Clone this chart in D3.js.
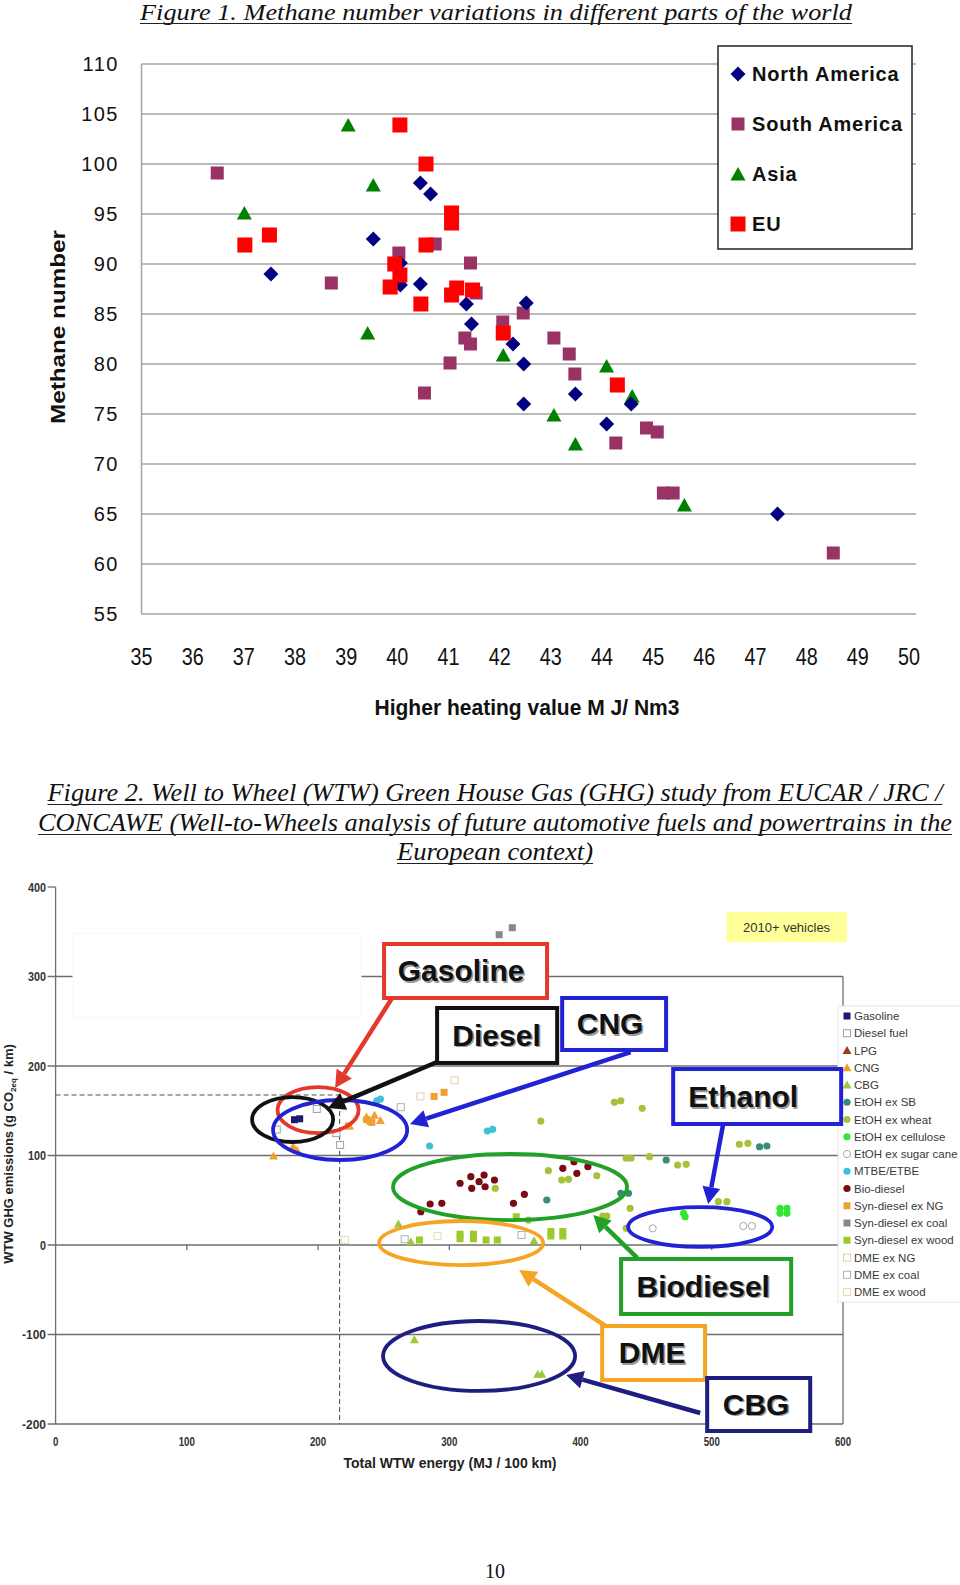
<!DOCTYPE html>
<html><head><meta charset="utf-8">
<script src="https://cdn.jsdelivr.net/npm/d3@7"></script>
<style>body{margin:0;background:#fff} svg{display:block}</style>
</head><body>
<svg id="c" width="960" height="1585"></svg>
<script>
// ---------------- Figure 1 data ----------------
const fig1XTicks = [35,36,37,38,39,40,41,42,43,44,45,46,47,48,49,50];
const fig1YTicks = [55,60,65,70,75,80,85,90,95,100,105,110];
const fig1Series = ["North America","South America","Asia","EU"];
const naX = [37.53,39.53,40.06,40.06,40.45,40.65,40.45,41.35,41.45,42.52,42.26,42.47,42.47,43.48,44.09,44.57,47.43];
const naY = [89.0,92.5,90.1,87.9,98.1,97.0,88.0,86.0,84.0,86.1,82.0,80.0,76.0,77.0,74.0,76.0,65.0];
const saX = [36.48,38.71,40.03,40.74,41.43,41.54,41.03,40.53,41.32,41.43,42.06,42.46,43.06,43.36,43.47,44.27,44.87,45.08,45.20,45.39,48.52];
const saY = [99.1,88.1,91.1,92.0,90.1,87.1,80.1,77.1,82.6,82.0,84.2,85.1,82.6,81.0,79.0,72.1,73.6,73.2,67.1,67.1,61.1];
const asiaX = [39.04,39.53,37.01,39.42,42.07,44.09,43.06,43.48,44.59,45.61];
const asiaY = [103.9,97.9,95.1,83.1,80.9,79.8,74.9,72.0,76.8,65.9];
const euX = [40.05,40.56,37.02,37.50,41.06,41.06,40.56,39.95,40.05,39.86,40.46,41.06,41.16,41.47,42.07,44.30];
const euY = [103.9,100.0,91.9,92.9,95.1,94.1,91.9,90.0,88.9,87.7,86.0,86.9,87.6,87.4,83.1,77.9];

// ---------------- Figure 2 data ----------------
const fig2XTicks = [0,100,200,300,400,500,600];
const fig2YTicks = [400,300,200,100,0,-100,-200];
const fig2Series = ["Gasoline","Diesel fuel","LPG","CNG","CBG","EtOH ex SB","EtOH ex wheat","EtOH ex cellulose","EtOH ex sugar cane","MTBE/ETBE","Bio-diesel","Syn-diesel ex NG","Syn-diesel ex coal","Syn-diesel ex wood","DME ex NG","DME ex coal","DME ex wood"];
const gasolineX = [182,186];
const gasolineY = [140,141];
const dieselX = [168.5,199,214,216.8];
const dieselY = [129,152,125,111.7];
const lpgX = [];
const lpgY = [];
const cngX = [166,181,184,224,237,243,247.5,240];
const cngY = [99.4,110,106,133,143,145,139,138];
const cbgX = [261.2,270.7,364.6,273.4,367.4,370.4];
const cbgY = [23.5,3.7,4.8,-106,-144.5,-144.5];
const etohSbX = [536.4,542,465.3,374.3,430.7,436.5];
const etohSbY = [109.8,110.6,95,50.3,57.8,57.8];
const etohWheatX = [369.7,425.8,430.7,447,521,527.5,434.8,438.4,452.5,474,480.5,375.5,385.7,390.8,412.4,335,505,511.5,437.8,417,420,434.8,360.3];
const etohWheatY = [138.5,159.4,161.2,152.7,112.5,113.6,96.9,96.9,98.7,89.4,90.1,83,72.6,73.4,77.4,63.4,48.4,48.4,41,32.4,32.4,18.6,27.9];
const etohCellX = [478.5,479.7,552,557.3,552,557.3];
const etohCellY = [35.4,31.6,41,41,35.4,35.4];
const etohSugarX = [455,524,530.6];
const etohSugarY = [18.6,21.2,21.2];
const mtbeX = [244.7,247.5,285,329,333];
const mtbeY = [161,163,110.6,127.4,129.3];
const bioDieselX = [308.2,316.4,317.1,322.7,326.5,327.3,334.4,285.4,294.3,278.3,348.9,357.2,386.5,397.2,395,405.6];
const bioDieselY = [69,76.3,63.3,70.7,78.2,65.1,72.6,45.8,46.6,37.2,46.6,56.6,85.7,80.1,93,87.5];
const synNgX = [223,237,241,288.4,296];
const synNgY = [133,140,137,166,170.6];
const synCoalX = [338,348];
const synCoalY = [346.7,354.5];
const synWoodX = [277.3,308.2,308.2,318.4,318.4,328,336.6,377.4,377.4,386.5,386.5,351];
const synWoodY = [5.6,7,12,7,12,5.6,5.6,10,15,10,15,31.6];
const dmeNgX = [278,304];
const dmeNgY = [166,184];
const dmeCoalX = [263,266,355];
const dmeCoalY = [154,6.4,11.2];
const dmeWoodX = [220.6,291];
const dmeWoodY = [5.6,10];
const refLineX = 216.4, refLineY = 167.6;

// callouts (data coordinates)
const calloutLabels = ["Gasoline","Diesel","CNG","Ethanol","Biodiesel","DME","CBG"];
const boxX0 = [250.3,290.7,386,470.6,430.9,416.5,496.5];
const boxX1 = [374.5,382.2,465.2,598.6,560.5,494.9,575];
const boxYTop = [336.3,264.8,276,196.6,-15.6,-90.5,-148.6];
const boxYBot = [276,203.4,217.9,135.2,-77.1,-150.8,-207.8];
const textCx = [309,336,422.5,523.9,493.5,454.6,533.8];
const ellCx = [200,180.6,216.8,491.2,346.3,309,322.7];
const ellCy = [150.8,140.2,128.5,20.1,64.8,2.2,-124];
const ellRx = [30.9,30.9,51.1,54.9,89.2,62.5,73.2];
const ellRy = [25.7,25.1,33.5,22.3,36.9,24.6,39.1];
const arrX0 = [256.4,290.7,438.2,508.7,443.2,424.1,491.2];
const arrY0 = [276,204.5,215.6,135.2,-14.5,-95,-187.7];
const arrX1 = [213,207.6,270.1,497.3,409.7,353.2,389];
const arrY1 = [175.4,153.1,135.2,45.8,33.5,-27.9,-145.3];
const calloutColors = ["#e3382b","#111111","#2222d4","#2222d4","#22a028","#f5a524","#1e1e80"];

// ---------------- drawing ----------------
const svg = d3.select("#c");
const SANS = "'Liberation Sans', Arial, sans-serif";
const SERIF = "'Liberation Serif', 'Times New Roman', serif";

function title(lines, cx, ys, widths, size){
  lines.forEach((t,i)=>{
    svg.append("text").attr("x",cx).attr("y",ys[i]).attr("text-anchor","middle")
      .attr("font-family",SERIF).attr("font-style","italic").attr("font-size",size)
      .attr("textLength",widths[i]).attr("lengthAdjust","spacingAndGlyphs").attr("fill","#111").text(t);
    svg.append("line").attr("x1",cx-widths[i]/2).attr("x2",cx+widths[i]/2)
      .attr("y1",ys[i]+3.5).attr("y2",ys[i]+3.5).attr("stroke","#222").attr("stroke-width",1.2);
  });
}
title(["Figure 1. Methane number variations in different parts of the world"],496,[20],[712],23);

// Figure 1
const x1 = d3.scaleLinear().domain([35,50]).range([141.5,909]);
const y1 = d3.scaleLinear().domain([55,110]).range([614,64]);
const g1 = svg.append("g");
g1.selectAll("line.grid").data(fig1YTicks).join("line").attr("class","grid")
  .attr("x1",x1(35)).attr("x2",916).attr("y1",d=>y1(d)).attr("y2",d=>y1(d))
  .attr("stroke","#a3a3a3").attr("stroke-width",1.5);
g1.append("line").attr("x1",x1(35)).attr("x2",x1(35)).attr("y1",y1(110)).attr("y2",y1(55))
  .attr("stroke","#a3a3a3").attr("stroke-width",1.5);
g1.selectAll("text.yt").data(fig1YTicks).join("text").attr("class","yt")
  .attr("x",119).attr("y",d=>y1(d)).attr("dy","0.36em").attr("text-anchor","end")
  .attr("font-family",SANS).attr("font-size",20).attr("letter-spacing",1.5).attr("fill","#111").text(d=>d);
g1.selectAll("text.xt").data(fig1XTicks).join("text").attr("class","xt")
  .attr("x",d=>x1(d)).attr("y",665).attr("text-anchor","middle")
  .attr("font-family",SANS).attr("font-size",23).attr("textLength",22).attr("lengthAdjust","spacingAndGlyphs")
  .attr("fill","#111").text(d=>d);
g1.append("text").attr("x",527).attr("y",715).attr("text-anchor","middle")
  .attr("font-family",SANS).attr("font-weight","bold").attr("font-size",22)
  .attr("textLength",305).attr("lengthAdjust","spacingAndGlyphs").attr("fill","#111")
  .text("Higher heating value M J/ Nm3");
g1.append("text").attr("transform","translate(65,327) rotate(-90)").attr("text-anchor","middle")
  .attr("font-family",SANS).attr("font-weight","bold").attr("font-size",20)
  .attr("textLength",194).attr("lengthAdjust","spacingAndGlyphs").attr("fill","#111")
  .text("Methane number");

const sym1 = {
  diamond: (g,cx,cy,c)=>g.append("path").attr("d",`M${cx},${cy-7.5}L${cx+7.5},${cy}L${cx},${cy+7.5}L${cx-7.5},${cy}Z`).attr("fill",c),
  sqS: (g,cx,cy,c)=>g.append("rect").attr("x",cx-6.5).attr("y",cy-6.5).attr("width",13).attr("height",13).attr("fill",c),
  sqL: (g,cx,cy,c)=>g.append("rect").attr("x",cx-7.5).attr("y",cy-7.5).attr("width",15).attr("height",15).attr("fill",c),
  tri: (g,cx,cy,c)=>g.append("path").attr("d",`M${cx},${cy-7}L${cx+7.5},${cy+6.5}L${cx-7.5},${cy+6.5}Z`).attr("fill",c)
};
const fig1Defs = [
  {xs:saX, ys:saY, s:"sqS", c:"#993366"},
  {xs:asiaX, ys:asiaY, s:"tri", c:"#008000"},
  {xs:naX, ys:naY, s:"diamond", c:"#000080"},
  {xs:euX, ys:euY, s:"sqL", c:"#ff0000"}
];
const gp = svg.append("g");
fig1Defs.forEach(d=>d.xs.forEach((v,i)=>sym1[d.s](gp,x1(v),y1(d.ys[i]),d.c)));

// legend fig1
const lg1 = svg.append("g");
lg1.append("rect").attr("x",718).attr("y",46).attr("width",194).attr("height",203)
  .attr("fill","#fff").attr("stroke","#222").attr("stroke-width",1.5);
const lg1Sym = ["diamond","sqS","tri","sqL"], lg1Col=["#000080","#993366","#008000","#ff0000"];
fig1Series.forEach((s,i)=>{
  const yy = 74 + i*50;
  sym1[lg1Sym[i]](lg1,738,yy,lg1Col[i]);
  lg1.append("text").attr("x",752).attr("y",yy).attr("dy","0.36em")
    .attr("font-family",SANS).attr("font-weight","bold").attr("font-size",20).attr("letter-spacing",0.8)
    .attr("fill","#111").text(s);
});

// Figure 2 title
title(["Figure 2. Well to Wheel (WTW) Green House Gas (GHG) study from EUCAR / JRC /",
       "CONCAWE (Well-to-Wheels analysis of future automotive fuels and powertrains in the",
       "European context)"],495,[801,831,860],[895,914,196],25);

const x2 = d3.scaleLinear().domain([0,600]).range([55.6,843]);
const y2 = d3.scaleLinear().domain([-200,400]).range([1424,887]);
const g2 = svg.append("g");
const GRID2 = "#6e6e6e";
// gridlines
g2.selectAll("line.g2").data(fig2YTicks.filter(d=>d!==400)).join("line").attr("class","g2")
  .attr("x1",x2(0)-8).attr("x2",x2(600)).attr("y1",d=>y2(d)).attr("y2",d=>y2(d))
  .attr("stroke",GRID2).attr("stroke-width",1.3);
g2.append("line").attr("x1",x2(0)-8).attr("x2",x2(0)).attr("y1",y2(400)).attr("y2",y2(400)).attr("stroke",GRID2).attr("stroke-width",1.3);
// white pasted area covering part of 300 line
g2.append("rect").attr("x",x2(13.3)).attr("y",y2(348.6)).attr("width",x2(232.7)-x2(13.3)).attr("height",y2(253.6)-y2(348.6))
  .attr("fill","#fff").attr("stroke","#f8f8f8").attr("stroke-width",1);
// axes
g2.append("line").attr("x1",x2(0)).attr("x2",x2(0)).attr("y1",y2(400)).attr("y2",y2(-200)).attr("stroke",GRID2).attr("stroke-width",1.3);
g2.append("line").attr("x1",x2(600)).attr("x2",x2(600)).attr("y1",y2(300)).attr("y2",y2(-200)).attr("stroke",GRID2).attr("stroke-width",1.3);
g2.selectAll("line.xt2").data(fig2XTicks.slice(1)).join("line").attr("class","xt2")
  .attr("x1",d=>x2(d)).attr("x2",d=>x2(d)).attr("y1",y2(0)).attr("y2",y2(0)+5).attr("stroke",GRID2).attr("stroke-width",1.3);
// dashed ref lines
g2.append("line").attr("x1",x2(0)).attr("x2",x2(refLineX)).attr("y1",y2(refLineY)).attr("y2",y2(refLineY))
  .attr("stroke","#555").attr("stroke-width",1.1).attr("stroke-dasharray","5,3");
g2.append("line").attr("x1",x2(refLineX)).attr("x2",x2(refLineX)).attr("y1",y2(refLineY)).attr("y2",y2(-200))
  .attr("stroke","#555").attr("stroke-width",1.1).attr("stroke-dasharray","5,3");
// tick labels
g2.selectAll("text.yt2").data(fig2YTicks).join("text").attr("class","yt2")
  .attr("x",46).attr("y",d=>y2(d)).attr("dy","0.36em").attr("text-anchor","end")
  .attr("font-family",SANS).attr("font-weight","bold").attr("font-size",13)
  .attr("textLength",d=>String(d).length*6).attr("lengthAdjust","spacingAndGlyphs").attr("fill","#333").text(d=>d);
g2.selectAll("text.xl2").data(fig2XTicks).join("text").attr("class","xl2")
  .attr("x",d=>x2(d)).attr("y",1446).attr("text-anchor","middle")
  .attr("font-family",SANS).attr("font-weight","bold").attr("font-size",12)
  .attr("textLength",d=>String(d).length*5.4).attr("lengthAdjust","spacingAndGlyphs").attr("fill","#333").text(d=>d);
g2.append("text").attr("x",450).attr("y",1468).attr("text-anchor","middle")
  .attr("font-family",SANS).attr("font-weight","bold").attr("font-size",14)
  .attr("textLength",213).attr("lengthAdjust","spacingAndGlyphs").attr("fill","#222")
  .text("Total WTW energy (MJ / 100 km)");
const yt = g2.append("text").attr("transform","translate(13,1154) rotate(-90)").attr("text-anchor","middle")
  .attr("font-family",SANS).attr("font-weight","bold").attr("font-size",13).attr("fill","#222");
yt.append("tspan").text("WTW GHG emissions (g CO");
yt.append("tspan").attr("font-size",8).attr("dy",3).text("2eq");
yt.append("tspan").attr("dy",-3).text(" / km)");

// 2010+ vehicles
g2.append("rect").attr("x",x2(511)).attr("y",y2(372)).attr("width",x2(603)-x2(511)).attr("height",y2(338.5)-y2(372)).attr("fill","#ffff99");
g2.append("text").attr("x",(x2(511)+x2(603))/2).attr("y",(y2(372)+y2(338.5))/2).attr("dy","0.36em").attr("text-anchor","middle")
  .attr("font-family",SANS).attr("font-size",13).attr("fill","#333").text("2010+ vehicles");

// markers
function mk(g,shape,cx,cy,fill,stroke){
  if(shape==="sq") return g.append("rect").attr("x",cx-3.5).attr("y",cy-3.5).attr("width",7).attr("height",7).attr("fill",fill).attr("stroke",stroke||"none").attr("stroke-width",1);
  if(shape==="tri") return g.append("path").attr("d",`M${cx},${cy-4.5}L${cx+4.5},${cy+3.5}L${cx-4.5},${cy+3.5}Z`).attr("fill",fill);
  return g.append("circle").attr("cx",cx).attr("cy",cy).attr("r",3.6).attr("fill",fill).attr("stroke",stroke||"none").attr("stroke-width",1);
}
const fig2Defs = [
  {xs:gasolineX,ys:gasolineY,s:"sq",f:"#1a1a6e"},
  {xs:dieselX,ys:dieselY,s:"sq",f:"#fff",k:"#a0a0a0"},
  {xs:lpgX,ys:lpgY,s:"tri",f:"#9c3a1a"},
  {xs:cngX,ys:cngY,s:"tri",f:"#f0a030"},
  {xs:cbgX,ys:cbgY,s:"tri",f:"#9cc83a"},
  {xs:etohSbX,ys:etohSbY,s:"c",f:"#3a8a78"},
  {xs:etohWheatX,ys:etohWheatY,s:"c",f:"#a6c23a"},
  {xs:etohCellX,ys:etohCellY,s:"c",f:"#33e633"},
  {xs:etohSugarX,ys:etohSugarY,s:"c",f:"#fff",k:"#a8a8a8"},
  {xs:mtbeX,ys:mtbeY,s:"c",f:"#40c0d6"},
  {xs:bioDieselX,ys:bioDieselY,s:"c",f:"#7a0a14"},
  {xs:synNgX,ys:synNgY,s:"sq",f:"#f0a030"},
  {xs:synCoalX,ys:synCoalY,s:"sq",f:"#888888"},
  {xs:synWoodX,ys:synWoodY,s:"sq",f:"#9cca2a"},
  {xs:dmeNgX,ys:dmeNgY,s:"sq",f:"#fff",k:"#e6cca8"},
  {xs:dmeCoalX,ys:dmeCoalY,s:"sq",f:"#fff",k:"#b0b0b0"},
  {xs:dmeWoodX,ys:dmeWoodY,s:"sq",f:"#fff",k:"#e6dcb0"}
];
const gm = svg.append("g");
fig2Defs.forEach(d=>d.xs.forEach((v,i)=>mk(gm,d.s,x2(v),y2(d.ys[i]),d.f,d.k)));

// legend fig2
const lg2 = svg.append("g");
lg2.append("rect").attr("x",838).attr("y",1006).attr("width",124).attr("height",296).attr("fill","#fff").attr("stroke","#e4e4e4");
fig2Series.forEach((s,i)=>{
  const yy = 1016 + i*17.25, d = fig2Defs[i];
  mk(lg2,d.s,847,yy,d.f,d.k);
  lg2.append("text").attr("x",854).attr("y",yy).attr("dy","0.36em").attr("font-family",SANS).attr("font-size",11.5)
    .attr("fill","#3a3a3a").text(s);
});

// callouts
const ga = svg.append("g");
function arrow(g,xa,ya,xb,yb,color){
  const dx=xb-xa, dy=yb-ya, L=Math.hypot(dx,dy), ux=dx/L, uy=dy/L;
  const hl=17, hw=9;
  const bx=xb-ux*hl, by=yb-uy*hl;
  g.append("line").attr("x1",xa).attr("y1",ya).attr("x2",bx).attr("y2",by).attr("stroke",color).attr("stroke-width",4.5);
  g.append("path").attr("d",`M${xb},${yb}L${bx-uy*hw},${by+ux*hw}L${bx+uy*hw},${by-ux*hw}Z`).attr("fill",color);
}
calloutLabels.forEach((lab,i)=>{
  const c = calloutColors[i];
  ga.append("ellipse").attr("cx",x2(ellCx[i])).attr("cy",y2(ellCy[i]))
    .attr("rx",x2(ellRx[i])-x2(0)).attr("ry",y2(0)-y2(ellRy[i]))
    .attr("fill","none").attr("stroke",c).attr("stroke-width",3.8);
});
calloutLabels.forEach((lab,i)=>{
  const c = calloutColors[i];
  arrow(ga,x2(arrX0[i]),y2(arrY0[i]),x2(arrX1[i]),y2(arrY1[i]),c);
  const bx0=x2(boxX0[i]), bx1=x2(boxX1[i]), by0=y2(boxYTop[i]), by1=y2(boxYBot[i]);
  ga.append("rect").attr("x",bx0).attr("y",by0).attr("width",bx1-bx0).attr("height",by1-by0)
    .attr("fill","#fff").attr("stroke",c).attr("stroke-width",4);
  const tx = x2(textCx[i]), ty = (by0+by1)/2 + 10.5;
  ga.append("text").attr("x",tx+1.5).attr("y",ty+1.5).attr("text-anchor","middle").attr("font-family",SANS)
    .attr("font-weight","bold").attr("font-size",30).attr("fill","#9a9a9a").text(lab);
  ga.append("text").attr("x",tx).attr("y",ty).attr("text-anchor","middle").attr("font-family",SANS)
    .attr("font-weight","bold").attr("font-size",30).attr("fill","#111").text(lab);
});

// page number
svg.append("text").attr("x",495).attr("y",1578).attr("text-anchor","middle").attr("font-family",SERIF)
  .attr("font-size",20).attr("fill","#111").text("10");
</script></body></html>
